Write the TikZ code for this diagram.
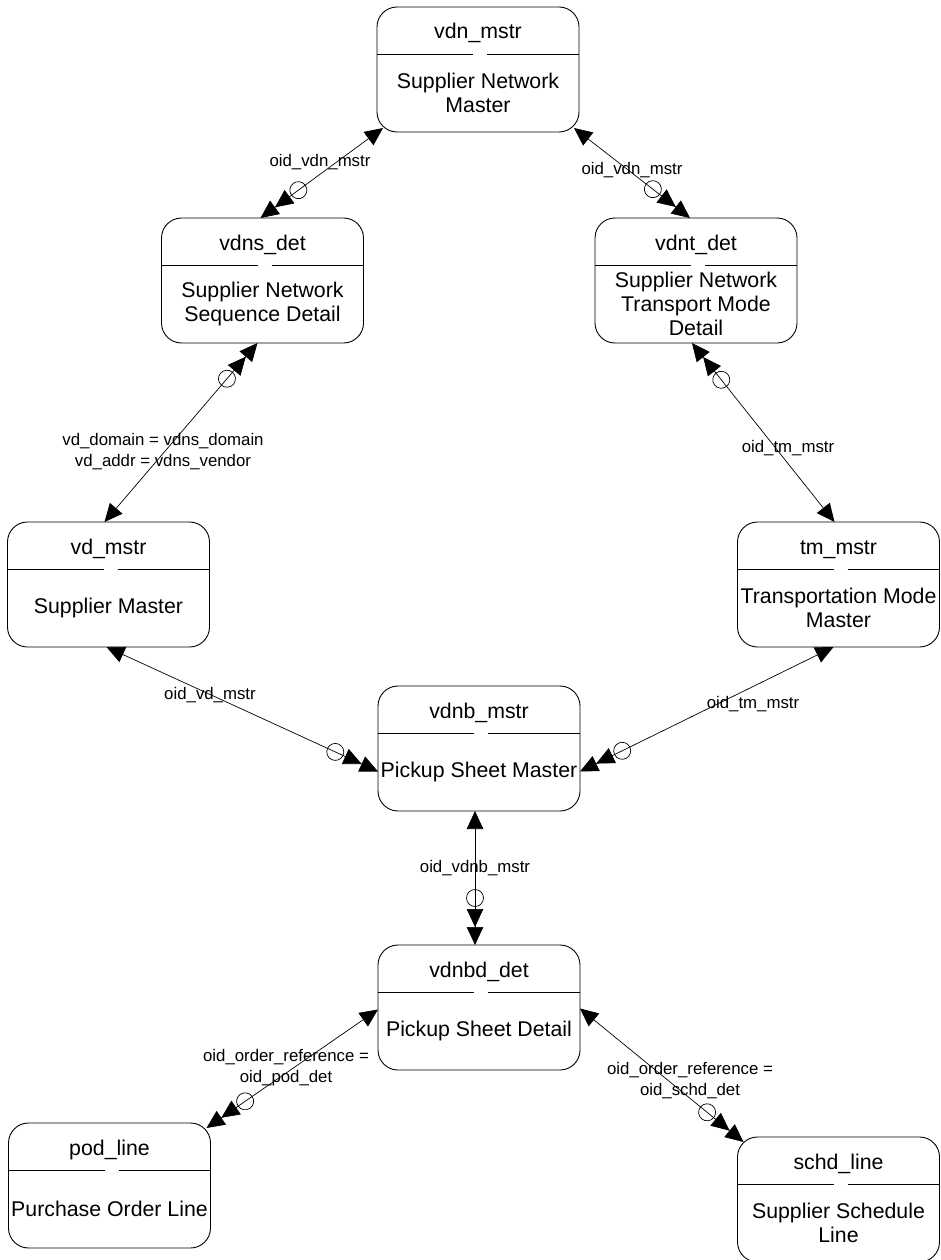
\documentclass[tikz,border=0pt]{standalone}
\usepackage{fontspec}
\setmainfont{Liberation Sans}
\usetikzlibrary{arrows.meta,decorations.markings}
\tikzset{
  ebox/.style={draw, line width=0.9pt, rounded corners=20pt, minimum width=202pt, minimum height=125pt, inner sep=0pt, outer sep=0pt, fill=white},
  titletxt/.style={font=\fontsize{21.3}{24}\selectfont, inner sep=0pt},
  bodytxt/.style={font=\fontsize{21.3}{24}\selectfont, align=center, inner sep=0pt},
  lbl/.style={font=\fontsize{16.8}{21}\selectfont, align=center, inner sep=0pt},
  divline/.style={line width=0.8pt},
  conn/.style={line width=0.7pt,
    {Triangle[length=18pt,width=16.5pt]}-{Triangle[length=18pt,width=16.5pt]Triangle[length=18pt,width=16.5pt]},
    postaction={decorate},
    decoration={markings, mark=at position -47pt with {\draw[line width=0.7pt] (0,0) circle (8.5pt);}}}
}
\newcommand\mkent[5]{%
  \node[ebox] (#1) at (#2,#3+62.5) {};
  \node[titletxt, anchor=base] (#1-t) at (#2,#3+32) {#4};
  \draw[divline] (#2-101,#3+47) -- (#2-5,#3+47);
  \draw[divline] (#2+9,#3+47) -- (#2+101,#3+47);
  \node[bodytxt] (#1-b) at (#2,#3+86) {#5};
}
\begin{document}
\begin{tikzpicture}[x=1pt,y=-1pt]
\useasboundingbox (0,0) rectangle (940,1260);
\fill[white] (0,0) rectangle (940,1260);

\mkent{vdn}{478}{7}{vdn\_mstr}{Supplier Network\\Master}
\mkent{vdns}{262.5}{218}{vdns\_det}{Supplier Network\\Sequence Detail}
\mkent{vdnt}{696}{218}{vdnt\_det}{Supplier Network\\Transport Mode\\Detail}
\mkent{vd}{108.5}{522}{vd\_mstr}{Supplier Master}
\mkent{tm}{838.5}{522}{tm\_mstr}{Transportation Mode\\Master}
\mkent{vdnb}{479}{686}{vdnb\_mstr}{Pickup Sheet Master}
\mkent{vdnbd}{479}{945}{vdnbd\_det}{Pickup Sheet Detail}
\mkent{pod}{109.5}{1123}{pod\_line}{Purchase Order Line}
\mkent{schd}{838.5}{1137}{schd\_line}{Supplier Schedule\\Line}

\draw[conn] ([xshift=6pt,yshift=4pt]vdn.south west) -- ([xshift=-2pt]vdns.north);
\draw[conn] ([xshift=-5pt,yshift=4pt]vdn.south east) -- ([xshift=-6pt]vdnt.north);
\draw[conn] ([xshift=-4pt]vd.north) -- ([xshift=-5pt]vdns.south);
\draw[conn] ([xshift=-4pt]tm.north) -- ([xshift=-4pt]vdnt.south);
\draw[conn] ([xshift=-2pt]vd.south) -- ([yshift=-23pt]vdnb.west);
\draw[conn] ([xshift=-5pt]tm.south) -- ([yshift=-23pt]vdnb.east);
\draw[conn] ([xshift=-4pt]vdnb.south) -- ([xshift=-4pt]vdnbd.north);
\draw[conn] ([yshift=-2pt]vdnbd.west) -- ([xshift=-4pt,yshift=-5pt]pod.north east);
\draw[conn] ([yshift=-1pt]vdnbd.east) -- ([xshift=6pt,yshift=-5pt]schd.north west);

\node[lbl] (l1) at (320,162) {oid\_vdn\_mstr};
\node[lbl] (l2) at (632,170) {oid\_vdn\_mstr};
\node[lbl] (l3) at (163,452) {vd\_domain = vdns\_domain\\vd\_addr = vdns\_vendor};
\node[lbl] (l4) at (788,448) {oid\_tm\_mstr};
\node[lbl] (l5) at (210,695) {oid\_vd\_mstr};
\node[lbl] (l6) at (753,704) {oid\_tm\_mstr};
\node[lbl] (l7) at (475,868) {oid\_vdnb\_mstr};
\node[lbl] (l8) at (286,1068) {oid\_order\_reference =\\oid\_pod\_det};
\node[lbl] (l9) at (690,1081) {oid\_order\_reference =\\oid\_schd\_det};
\end{tikzpicture}
\end{document}
